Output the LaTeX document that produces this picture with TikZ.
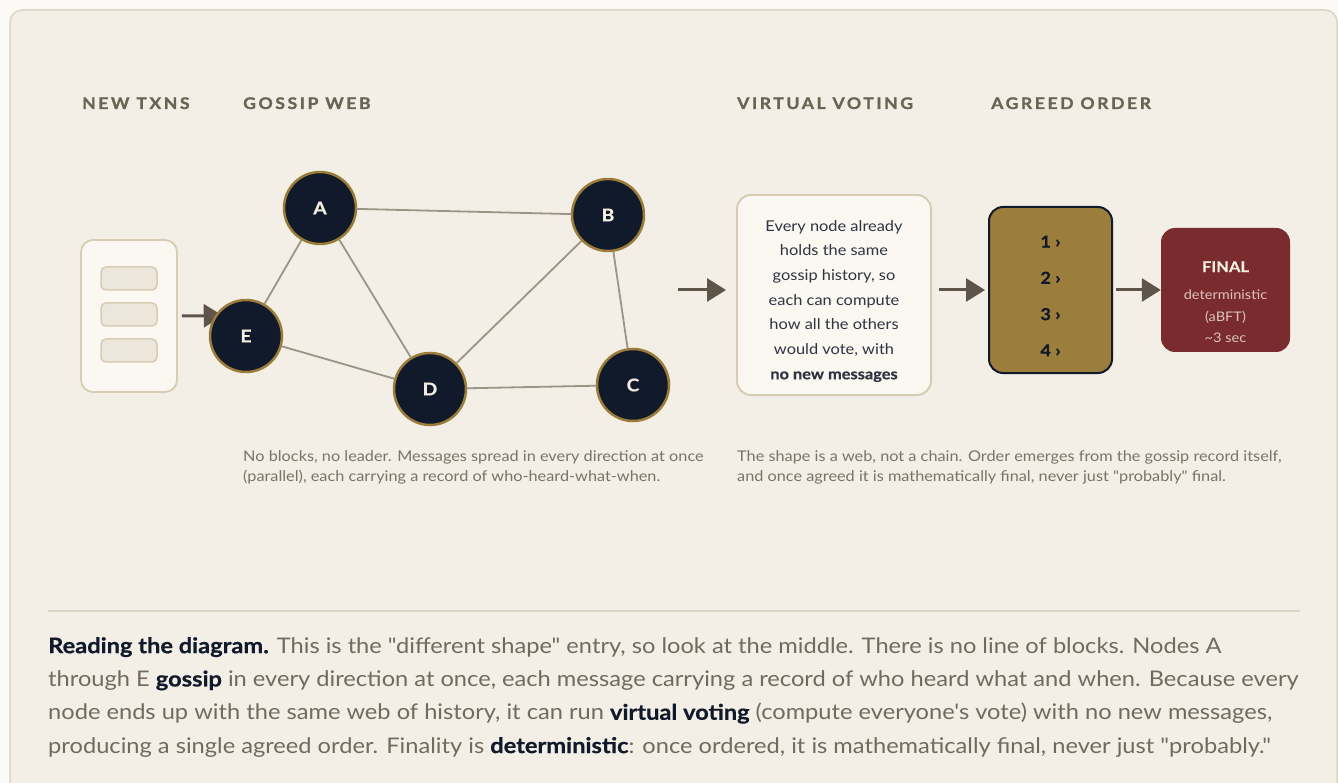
\documentclass[tikz,border=0pt]{standalone}
\usepackage{fontspec}
\setmainfont{Lato}[FakeStretch=1.1, Ligatures=TeXOff, BoldFeatures={FakeBold=0.6}]
\newfontfamily\headfont{Lato}[FakeStretch=1.1, LetterSpace=16, BoldFeatures={FakeBold=1.2}]
\usetikzlibrary{arrows.meta,backgrounds}

\definecolor{pagebg}{HTML}{FBFAF6}
\definecolor{panelbg}{HTML}{F3EFE7}
\definecolor{panelline}{HTML}{DDD5C3}
\definecolor{boxbg}{HTML}{FAF8F1}
\definecolor{boxline}{HTML}{D8CDB4}
\definecolor{slotbg}{HTML}{EDE7DB}
\definecolor{ink}{HTML}{111A2B}
\definecolor{gold}{HTML}{9C7C3A}
\definecolor{ochre}{HTML}{9B7D3C}
\definecolor{wine}{HTML}{7A2B2D}
\definecolor{cream}{HTML}{F3ECE2}
\definecolor{blush}{HTML}{DDC3BE}
\definecolor{wire}{HTML}{9A9585}
\definecolor{arrowc}{HTML}{5E5548}
\definecolor{headc}{HTML}{6B6452}
\definecolor{notec}{HTML}{7A7466}
\definecolor{bodyc}{HTML}{716B5D}
\definecolor{votec}{HTML}{2E3442}

\newcommand\inkbold[1]{\textbf{\color{ink}#1}}

\tikzset{
  peer/.style={circle, draw=gold, line width=2.5pt, fill=ink, minimum size=72pt,
    inner sep=0pt, text=cream, font=\fontsize{17.5}{17.5}\selectfont\bfseries},
  link/.style={draw=wire, line width=1.8pt},
  flow/.style={draw=arrowc, line width=3pt, -{Triangle[length=19pt,width=23pt]}},
  head/.style={anchor=base west, inner sep=0pt, text=headc,
    font=\headfont\fontsize{16}{16}\selectfont\bfseries},
  note/.style={anchor=north west, inner sep=0pt, align=left, text=notec,
    font=\fontsize{14.8}{20.5}\selectfont},
  txnbox/.style={draw=boxline, line width=1.8pt, fill=boxbg, rounded corners=12pt,
    minimum width=96pt, minimum height=152pt},
  slot/.style={draw=boxline, line width=1.5pt, fill=slotbg, rounded corners=5pt,
    minimum width=56pt, minimum height=23pt},
  votebox/.style={draw=boxline, line width=2pt, fill=boxbg, rounded corners=14pt,
    minimum width=194pt, minimum height=200pt},
  votetext/.style={align=center, text=votec, inner sep=0pt,
    font=\fontsize{14.9}{24.7}\selectfont},
  orderbox/.style={draw=ink, line width=2pt, fill=ochre, rounded corners=14pt,
    minimum width=123pt, minimum height=166pt},
  ordertext/.style={align=center, text=ink, inner sep=0pt,
    font=\fontsize{16.5}{36.3}\selectfont\bfseries},
  finalbox/.style={fill=wine, rounded corners=14pt, minimum width=129pt,
    minimum height=124pt},
  finaltext/.style={align=center, text=blush, inner sep=0pt,
    font=\fontsize{13.25}{21.5}\selectfont},
}

\begin{document}
\begin{tikzpicture}[x=1pt,y=-1pt]
  \useasboundingbox (0,0) rectangle (1338,783);

  % page and card
  \begin{scope}[on background layer]
    \fill[pagebg] (0,0) rectangle (1338,783);
    \draw[panelline, line width=1.5pt, fill=panelbg, rounded corners=12pt]
      (10,10) rectangle (1337,795);
  \end{scope}

  % column heads
  \node[head] (h-txns)  at (82,109)  {NEW TXNS};
  \node[head] (h-web)   at (243,109) {GOSSIP WEB};
  \node[head] (h-vote)  at (737,109) {VIRTUAL VOTING};
  \node[head] (h-order) at (991,109) {AGREED ORDER};

  % incoming transactions
  \node[txnbox] (txn) at (129,316) {};
  \node[slot] (slot1) at (129,278.5) {};
  \node[slot] (slot2) at (129,314.5) {};
  \node[slot] (slot3) at (129,350.5) {};

  % the gossip web
  \node[peer] (A) at (320,208) {A};
  \node[peer] (B) at (608,215) {B};
  \node[peer] (C) at (633,385) {C};
  \node[peer] (D) at (430,389) {D};
  \node[peer] (E) at (246,336) {E};
  \draw[link] (A) -- (B);
  \draw[link] (A) -- (E);
  \draw[link] (A) -- (D);
  \draw[link] (E) -- (D);
  \draw[link] (D) -- (B);
  \draw[link] (D) -- (C);
  \draw[link] (B) -- (C);

  \begin{scope}[on background layer]
    \draw[flow, shorten <=4pt, shorten >=-8pt] (txn.east) -- (E.147);
  \end{scope}

  % voting, ordering, finality
  \node[votebox] (vote) at (834,295) {};
  \node[votetext] (votewhy) at ([yshift=-6pt]vote.center)
    {Every node already\\holds the same\\gossip history, so\\each can compute\\
     how all the others\\would vote, with\\\textbf{no new messages}};
  \node[orderbox] (order) at (1050.5,290) {};
  \node[ordertext] (ranks) at ([yshift=-6pt]order.center) {1 ›\\2 ›\\3 ›\\4 ›};
  \node[finalbox] (final) at (1225.5,290) {};
  \node[finaltext] (finalwhy) at ([yshift=-12pt]final.center)
    {{\color{cream}\fontsize{15}{15}\selectfont\bfseries FINAL}\\[6pt]
     deterministic\\(aBFT)\\\textasciitilde3 sec};

  \coordinate (webout) at (678,290);
  \draw[flow, shorten >=10pt] (webout) -- (webout -| vote.west);
  \draw[flow, shorten <=7pt, shorten >=3pt] (vote.east |- order.west) -- (order.west);
  \draw[flow, shorten <=3pt] (order) -- (final);

  % captions under the columns
  \node[note] (webnote) at (243,450)
    {No blocks, no leader. Messages spread in every direction at once\\
     (parallel), each carrying a record of who-heard-what-when.};
  \node[note] (votenote) at (737,450)
    {The shape is a web, not a chain. Order emerges from the gossip record itself,\\
     and once agreed it is mathematically final, never just "probably" final.};

  % reading notes
  \draw[panelline, line width=2pt] (48,611) -- (1300,611);
  \node[anchor=north west, inner sep=0pt, align=left, text=bodyc,
    font=\fontsize{21.5}{33.3}\selectfont] (reading) at (48,637)
    {\inkbold{Reading the diagram.} This is the "different shape" entry, so look at the middle. There is no line of blocks. Nodes A\\
     through E \inkbold{gossip} in every direction at once, each message carrying a record of who heard what and when. Because every\\
     node ends up with the same web of history, it can run \inkbold{virtual voting} (compute everyone's vote) with no new messages,\\
     producing a single agreed order. Finality is \inkbold{deterministic}: once ordered, it is mathematically final, never just "probably."};
\end{tikzpicture}
\end{document}
